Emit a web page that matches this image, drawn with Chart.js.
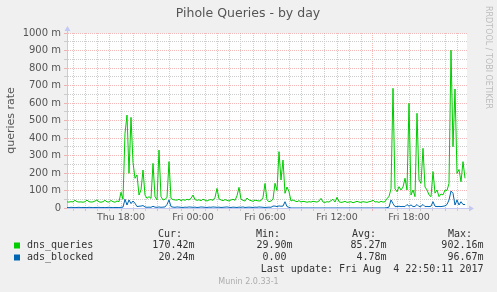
<!DOCTYPE html>
<html lang="en">
<head>
<meta charset="UTF-8">
<title>Pihole Queries - by day</title>
<script src="https://cdn.jsdelivr.net/npm/chart.js"></script>
<style>
  body { margin: 0; background: #f0f0f0; }
  #wrap { width: 497px; height: 292px; }
</style>
</head>
<body>
<div id="wrap"><canvas id="pihole" width="497" height="292"></canvas></div>
<script>
// one sample every 10 minutes, values in milli (m) queries per second
const startHour = 13.5;   // Thu 13:30, hours counted from Thu 00:00
const endHour = 46 + 50 / 60; // Fri 22:50
const stepHour = 1 / 6;

const dnsQueries = [
  35, 34, 36, 35, 44, 36, 34, 35, 33, 36,
  45, 36, 34, 35, 40, 46, 35, 33, 36, 44,
  35, 34, 43, 36, 33, 40, 36, 90, 50, 427,
  531, 198, 518, 260, 170, 189, 74, 103, 217, 74,
  55, 65, 55, 255, 65, 46, 331, 65, 46, 50,
  60, 265, 55, 48, 46, 45, 50, 42, 48, 44,
  50, 46, 55, 74, 48, 44, 47, 42, 50, 45,
  40, 46, 48, 44, 60, 112, 52, 46, 42, 48,
  44, 40, 46, 50, 44, 70, 118, 50, 44, 40,
  57, 46, 42, 38, 45, 42, 40, 42, 60, 140,
  46, 36, 40, 50, 141, 100, 322, 160, 274, 84,
  120, 93, 40, 46, 40, 36, 42, 34, 38, 36,
  33, 36, 34, 38, 36, 34, 40, 55, 34, 32,
  36, 34, 42, 50, 34, 61, 36, 32, 34, 38,
  32, 34, 36, 30, 34, 38, 34, 32, 36, 34,
  32, 36, 38, 45, 34, 36, 32, 38, 34, 36,
  55, 65, 110, 684, 110, 93, 122, 103, 120, 170,
  103, 598, 74, 103, 65, 541, 160, 141, 341, 120,
  103, 75, 65, 208, 85, 103, 65, 80, 75, 103,
  100, 141, 902, 350, 680, 198, 220, 150, 265, 170
];
const adsBlocked = [
  3, 2, 4, 3, 2, 3, 4, 2, 3, 3,
  2, 4, 3, 2, 3, 3, 4, 2, 3, 2,
  3, 4, 3, 2, 3, 3, 2, 4, 5, 50,
  17, 46, 25, 40, 27, 8, 10, 11, 14, 6,
  4, 5, 4, 10, 5, 4, 6, 4, 5, 6,
  20, 46, 8, 5, 4, 6, 5, 4, 3, 5,
  4, 6, 5, 4, 5, 3, 4, 6, 5, 4,
  3, 5, 4, 6, 5, 4, 5, 3, 4, 5,
  6, 4, 3, 5, 4, 3, 5, 4, 6, 3,
  4, 5, 4, 3, 5, 4, 6, 5, 4, 3,
  4, 5, 4, 11, 11, 8, 12, 10, 11, 36,
  8, 4, 0, 0, 0, 0, 0, 0, 0, 0,
  0, 0, 0, 0, 0, 0, 0, 0, 0, 0,
  0, 0, 0, 0, 0, 0, 0, 0, 0, 0,
  0, 0, 0, 0, 0, 0, 0, 0, 0, 0,
  0, 0, 0, 0, 0, 0, 0, 0, 0, 0,
  2, 5, 46, 25, 8, 8, 10, 8, 9, 8,
  20, 10, 18, 8, 9, 20, 8, 10, 20, 8,
  9, 8, 10, 36, 10, 8, 9, 8, 10, 12,
  20, 46, 97, 84, 17, 46, 17, 36, 20, 20
];

const xTickHours = [18, 24, 30, 36, 42];
const xTickNames = ['Thu 18:00', 'Fri 00:00', 'Fri 06:00', 'Fri 12:00', 'Fri 18:00'];

const seriesNames = ['dns_queries', 'ads_blocked'];
const seriesColors = ['#00cc00', '#0066b3'];
const curValues = ['170.42m', '20.24m'];
const minValues = ['29.90m', '0.00 '];
const avgValues = ['85.27m', '4.78m'];
const maxValues = ['902.16m', '96.67m'];
const lastUpdate = 'Last update: Fri Aug  4 22:50:11 2017';

const times = dnsQueries.map((_, i) => startHour + i * stepHour);
const toPoints = arr => arr.map((v, i) => ({ x: times[i], y: v }));

const axisColor = '#c4c8f4';
const majorGrid = 'rgba(236, 140, 140, 0.6)';
const minorGrid = '#cdcdcd';

const muninDecor = {
  id: 'muninDecor',
  beforeDraw(chart) {
    const { ctx, chartArea: a } = chart;
    ctx.save();
    ctx.fillStyle = '#f0f0f0';
    ctx.fillRect(0, 0, chart.width, chart.height);
    ctx.fillStyle = '#ffffff';
    ctx.fillRect(a.left, a.top, a.right - a.left, a.bottom - a.top);
    ctx.restore();
  },
  afterDraw(chart) {
    const { ctx, chartArea: a } = chart;
    ctx.save();

    // axis arrows
    ctx.strokeStyle = axisColor;
    ctx.fillStyle = axisColor;
    ctx.lineWidth = 1;
    ctx.beginPath();
    ctx.moveTo(a.left + 0.5, a.top);
    ctx.lineTo(a.left + 0.5, a.top - 4);
    ctx.moveTo(a.right, a.bottom + 0.5);
    ctx.lineTo(a.right + 3, a.bottom + 0.5);
    ctx.stroke();
    ctx.beginPath();
    ctx.moveTo(a.left - 2.5, a.top - 2);
    ctx.lineTo(a.left + 3.5, a.top - 2);
    ctx.lineTo(a.left + 0.5, a.top - 7);
    ctx.closePath();
    ctx.fill();
    ctx.beginPath();
    ctx.moveTo(a.right + 2, a.bottom - 2.5);
    ctx.lineTo(a.right + 2, a.bottom + 3.5);
    ctx.lineTo(a.right + 7, a.bottom + 0.5);
    ctx.closePath();
    ctx.fill();

    // title
    ctx.fillStyle = '#555';
    ctx.textBaseline = 'middle';
    ctx.textAlign = 'center';
    ctx.font = '12.5px "DejaVu Sans"';
    ctx.fillText('Pihole Queries - by day', 248, 14);

    // y axis title
    ctx.save();
    ctx.translate(11, (a.top + a.bottom) / 2);
    ctx.rotate(-Math.PI / 2);
    ctx.font = '11px "DejaVu Sans"';
    ctx.fillText('queries rate', 0, 0);
    ctx.restore();

    // watermark
    ctx.save();
    ctx.translate(488, 6);
    ctx.rotate(Math.PI / 2);
    ctx.textAlign = 'left';
    ctx.fillStyle = '#bdbdbd';
    ctx.font = '8px "DejaVu Sans"';
    ctx.fillText('RRDTOOL / TOBI OETIKER', 0, 0);
    ctx.restore();

    // legend table
    ctx.fillStyle = '#333';
    ctx.font = '10px "DejaVu Sans Mono"';
    ctx.textAlign = 'left';
    ctx.fillText('Cur:', 158, 234);
    ctx.fillText('Min:', 256, 234);
    ctx.fillText('Avg:', 352, 234);
    ctx.fillText('Max:', 448, 234);
    seriesNames.forEach((name, i) => {
      const y = 245.5 + i * 12;
      ctx.fillStyle = seriesColors[i];
      ctx.fillRect(14, y - 3, 6, 6);
      ctx.fillStyle = '#333';
      ctx.textAlign = 'left';
      ctx.fillText(name, 27, y);
      ctx.textAlign = 'right';
      ctx.fillText(curValues[i], 194.5, y);
      ctx.fillText(minValues[i], 292.5, y);
      ctx.fillText(avgValues[i], 386.5, y);
      ctx.fillText(maxValues[i], 483.5, y);
    });
    ctx.textAlign = 'right';
    ctx.fillText(lastUpdate, 483.5, 269.5);

    ctx.textAlign = 'center';
    ctx.fillStyle = '#adadad';
    ctx.font = '8px "DejaVu Sans"';
    ctx.fillText('Munin 2.0.33-1', 248.5, 281.5);
    ctx.restore();
  }
};

const ctx = document.getElementById('pihole').getContext('2d');
new Chart(ctx, {
  type: 'line',
  data: {
    datasets: [
      {
        label: seriesNames[0],
        data: toPoints(dnsQueries),
        borderColor: seriesColors[0],
        borderWidth: 1,
        pointRadius: 0,
        tension: 0,
        fill: false,
        order: 2
      },
      {
        label: seriesNames[1],
        data: toPoints(adsBlocked),
        borderColor: seriesColors[1],
        borderWidth: 1,
        pointRadius: 0,
        tension: 0,
        fill: false,
        order: 1
      }
    ]
  },
  plugins: [muninDecor],
  options: {
    responsive: false,
    animation: false,
    devicePixelRatio: 1,
    layout: { padding: { top: 33, right: 30, bottom: 64, left: 0 } },
    plugins: {
      legend: { display: false },
      tooltip: { enabled: false },
      title: { display: false }
    },
    scales: {
      x: {
        type: 'linear',
        min: startHour,
        max: endHour,
        afterFit: scale => { scale.height = 20; },
        ticks: {
          stepSize: 1,
          autoSkip: false,
          maxRotation: 0,
          includeBounds: false,
          padding: 1,
          color: '#555',
          font: { family: 'DejaVu Sans', size: 9.5 },
          callback: v => {
            const k = xTickHours.indexOf(v);
            return k >= 0 ? xTickNames[k] : '';
          }
        },
        grid: {
          color: c => (c.tick && c.tick.value % 3 === 0) ? majorGrid : minorGrid,
          tickLength: 3,
          lineWidth: 1
        },
        border: { color: axisColor, dash: [1, 1] }
      },
      y: {
        min: 0,
        max: 1000,
        afterFit: scale => { scale.width = 67; },
        ticks: {
          stepSize: 50,
          autoSkip: false,
          padding: 3,
          color: '#555',
          font: { family: 'DejaVu Sans', size: 10 },
          callback: v => v % 100 !== 0 ? '' : (v === 0 ? '0' : v + ' m')
        },
        grid: {
          color: c => (c.tick && c.tick.value % 100 === 0) ? majorGrid : minorGrid,
          tickLength: 3,
          lineWidth: 1
        },
        border: { color: axisColor, dash: [1, 1] }
      }
    }
  }
});
</script>
</body>
</html>
